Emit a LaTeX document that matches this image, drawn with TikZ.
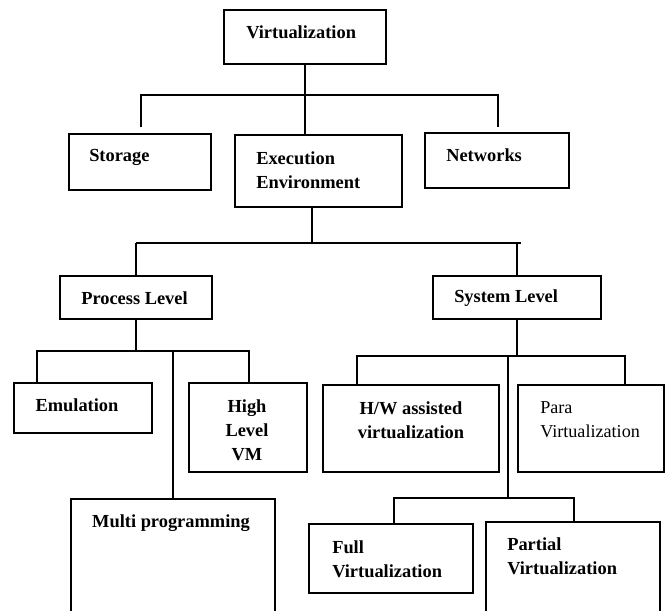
\documentclass[tikz,border=0pt]{standalone}
\usepackage{fontspec}
\setmainfont{Liberation Serif}
\usetikzlibrary{fit}
\begin{document}
\begin{tikzpicture}[x=0.75pt, y=-0.75pt,
    box/.style={draw, line width=1.1pt, inner sep=0pt},
    wire/.style={line width=1.1pt},
    lbl/.style={inner sep=0pt, align=left, font=\fontsize{13.8}{18}\selectfont\bfseries},
    plain/.style={lbl, font=\fontsize{13.6}{18}\selectfont}]
  \useasboundingbox (0,0) rectangle (669,611);
  \clip (0,0) rectangle (669,611);

  % boxes
  \node[box, fit={(224,10) (386,64)}] (virt) {};
  \node[box, fit={(69,134) (211,190)}] (stor) {};
  \node[box, fit={(235,135) (402,207)}] (exec) {};
  \node[box, fit={(425,133) (569,188)}] (net) {};

  \node[box, fit={(60,276) (212,319)}] (proc) {};
  \node[box, fit={(433,276) (601,319)}] (sys) {};

  \node[box, fit={(14,383) (152,433)}] (emu) {};
  \node[box, fit={(189,383) (307,472)}] (hlvm) {};
  \node[box, fit={(71,499) (275,640)}] (multi) {};
  \node[box, fit={(323,385) (499,472)}] (hw) {};
  \node[box, fit={(518,385) (664,472)}] (para) {};
  \node[box, fit={(309,524) (473,593)}] (full) {};
  \node[box, fit={(486,522) (660,640)}] (part) {};

  % texts
  \node[lbl, anchor=west] (virt-t) at (246,32) {Virtualization};
  \node[lbl, anchor=west] (stor-t) at (89,157) {Storage};
  \node[lbl, anchor=west] (exec-t) at (256,170) {Execution\\Environment};
  \node[lbl, anchor=west] (net-t) at (446,155) {Networks};
  \node[lbl, anchor=west] (proc-t) at (81,298) {Process Level};
  \node[lbl, anchor=west] (sys-t) at (454,298) {System Level};
  \node[lbl] (emu-t) at (77,405) {Emulation};
  \node[lbl, align=center] (hlvm-t) at (247,430) {High\\Level\\VM};
  \node[lbl] (multi-t) at (171,523) {Multi programming};
  \node[lbl, align=center] (hw-t) at (411,420) {H/W assisted\\virtualization};
  \node[plain, anchor=west] (para-t) at (540,420) {Para\\Virtualization};
  \node[lbl, anchor=west] (full-t) at (332,559) {Full\\Virtualization};
  \node[lbl, anchor=west] (part-t) at (507,556) {Partial\\Virtualization};

  % bars
  \coordinate (bar1l) at (141,95);
  \coordinate (bar1r) at (498,95);
  \coordinate (stor-in) at (141,127);
  \coordinate (net-in) at (498,127);
  \coordinate (bar2) at (312,243);
  \coordinate (bar2l) at (136,243);
  \coordinate (bar2r) at (521,243);
  \coordinate (bar3l) at (37,351);
  \coordinate (bar3r) at (249,351);
  \coordinate (bar4l) at (357,356);
  \coordinate (bar4r) at (625,356);
  \coordinate (bar5l) at (394,498);
  \coordinate (bar5m) at (508,498);
  \coordinate (bar5r) at (574,498);

  \draw[wire] (virt.south) -- (virt.south |- exec.north);
  \draw[wire] (stor-in) -- (bar1l) -- (bar1r) -- (net-in);

  \draw[wire] (bar2 |- exec.south) -- (bar2);
  \draw[wire] (bar2l) -- (bar2r);
  \draw[wire] (proc.north) -- (proc.north |- bar2l);
  \draw[wire] (sys.north) -- (sys.north |- bar2r);

  \draw[wire] (proc.south) -- (proc.south |- bar3l);
  \draw[wire] (emu.north -| bar3l) -- (bar3l) -- (bar3r) -- (hlvm.north -| bar3r);
  \draw[wire] (multi.north) -- (multi.north |- bar3l);

  \draw[wire] (sys.south) -- (sys.south |- bar4l);
  \draw[wire] (hw.north -| bar4l) -- (bar4l) -- (bar4r) -- (para.north -| bar4r);
  \draw[wire] (bar5m |- bar4l) -- (bar5m);
  \draw[wire] (full.north -| bar5l) -- (bar5l) -- (bar5r) -- (part.north -| bar5r);
\end{tikzpicture}
\end{document}
